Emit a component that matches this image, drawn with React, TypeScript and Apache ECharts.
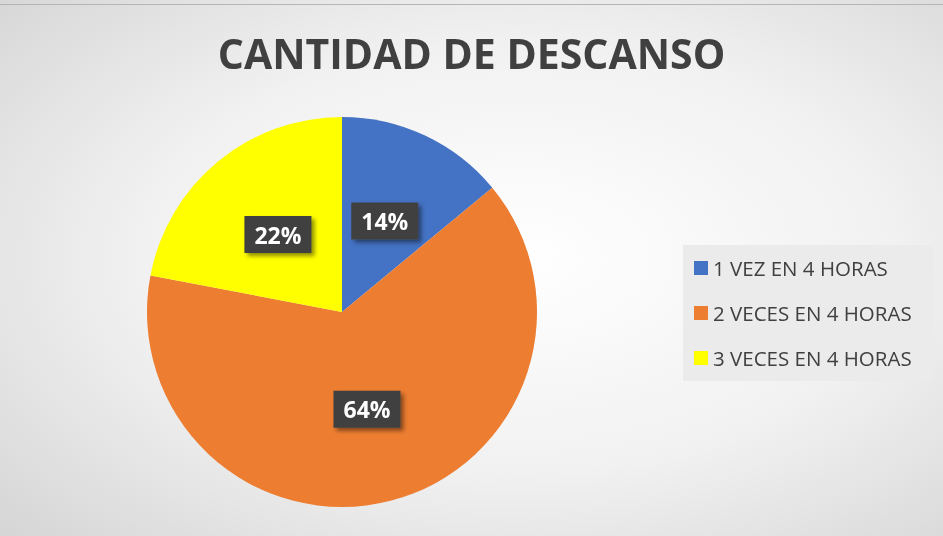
import React, { useEffect, useRef } from "react";
import * as echarts from "echarts";

const categories = ["1 VEZ EN 4 HORAS", "2 VECES EN 4 HORAS", "3 VECES EN 4 HORAS"];
const values = [14, 64, 22];
const colors = ["#4472c4", "#ed7d31", "#ffff00"];
const titleText = "CANTIDAD DE DESCANSO";

export default function App() {
  const ref = useRef<HTMLDivElement>(null);
  useEffect(() => {
    if (!ref.current) return;
    const chart = echarts.init(ref.current, null, { renderer: "svg" });
    chart.setOption({
      animation: false,
      backgroundColor: new echarts.graphic.RadialGradient(0.55, 0.48, 1.0, [
        { offset: 0, color: "#ffffff" },
        { offset: 0.4, color: "#f1f1f1" },
        { offset: 1, color: "#c2c2c2" },
      ]),
      title: {
        text: titleText,
        left: "center",
        top: 27,
        textStyle: {
          fontFamily: "Open Sans",
          fontWeight: "bold",
          fontSize: 41,
          color: "#404040",
        },
      },
      legend: {
        orient: "vertical",
        left: 683,
        top: 245,
        padding: [12, 22, 12, 11],
        backgroundColor: "#ebebeb",
        itemWidth: 14,
        itemHeight: 14,
        itemGap: 23,
        icon: "rect",
        data: categories,
        textStyle: {
          fontFamily: "Open Sans",
          fontSize: 20.5,
          color: "#404040",
          lineHeight: 22,
        },
      },
      graphic: [
        {
          type: "line",
          shape: { x1: 0, y1: 4.5, x2: 943, y2: 4.5 },
          style: { stroke: "#b5b5b5", lineWidth: 1 },
        },
      ],
      series: [
        {
          type: "pie",
          center: [342, 312],
          radius: 195,
          startAngle: 90,
          clockwise: true,
          data: categories.map((name, i) => ({
            name,
            value: values[i],
            itemStyle: { color: colors[i] },
          })),
          itemStyle: { borderWidth: 0 },
          label: {
            show: true,
            position: "inside",
            formatter: "{d}%",
            fontFamily: "Open Sans",
            fontWeight: "bold",
            fontSize: 23,
            color: "#ffffff",
            backgroundColor: "#404040",
            padding: [8, 10, 6, 10],
            shadowColor: "rgba(0,0,0,0.45)",
            shadowBlur: 4,
            shadowOffsetX: 3,
            shadowOffsetY: 3,
          },
          labelLine: { show: false },
          emphasis: { disabled: true },
        },
      ],
    });
    return () => chart.dispose();
  }, []);
  return (
    <div
      ref={ref}
      style={{ position: "fixed", left: 0, top: 0, width: 943, height: 536 }}
    />
  );
}
